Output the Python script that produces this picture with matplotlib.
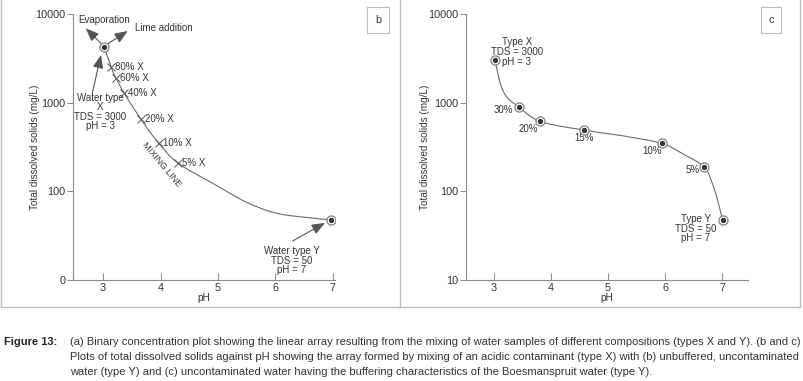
import matplotlib
matplotlib.use('Agg')
import matplotlib.pyplot as plt
import numpy as np
from matplotlib.lines import Line2D

plt.rcParams['font.family'] = ['Liberation Sans', 'DejaVu Sans']

# ---- data ----
# panel b : unbuffered mixing
b_x_pt = (3.02, 4250)
b_y_pt = (6.965, 47.7)
b_mix_labels = ['80% X', '60% X', '40% X', '20% X', '10% X', '5% X']
b_mix_ph = [3.14, 3.22, 3.37, 3.66, 3.97, 4.31]
b_mix_tds = [2520, 1915, 1277, 650, 348, 207]
b_curve_ph = [3.02, 3.14, 3.22, 3.37, 3.66, 3.97, 4.31, 5.0, 5.5, 6.0, 6.5, 6.965]
b_curve_tds = [4250, 2520, 1915, 1277, 650, 348, 207, 114, 75, 57, 51, 47.7]

# panel c : buffered mixing
c_labels = ['', '30%', '20%', '15%', '10%', '5%', '']
c_ph = [3.02, 3.43, 3.81, 4.58, 5.94, 6.69, 7.01]
c_tds = [3000, 900, 615, 490, 347, 187, 48]
c_curve_ph = [3.02, 3.11, 3.22, 3.43, 3.81, 4.58, 5.27, 5.94, 6.32, 6.69, 6.85, 6.94, 7.01]
c_curve_tds = [3000, 1650, 1170, 900, 615, 490, 422, 347, 263, 187, 113, 72, 48]

y_ticks = [10, 100, 1000, 10000]
b_ytick_labels = ['0', '100', '1000', '10000']
c_ytick_labels = ['10', '100', '1000', '10000']
x_ticks = [3, 4, 5, 6, 7]

caption_head = 'Figure 13:'
caption_lines = [
    '(a) Binary concentration plot showing the linear array resulting from the mixing of water samples of different compositions (types X and Y). (b and c)',
    'Plots of total dissolved solids against pH showing the array formed by mixing of an acidic contaminant (type X) with (b) unbuffered, uncontaminated',
    'water (type Y) and (c) uncontaminated water having the buffering characteristics of the Boesmanspruit water (type Y).',
]

TXT = '#333333'
LINE = '#6a6a6a'
FRAME = '#bdbdbd'
FS = 7.0      # annotation size
TICK_FS = 7.8


def smooth(px, py, n=20):
    # Catmull-Rom through the read points, in (pH, log TDS) space
    x = np.asarray(px, float)
    y = np.log10(np.asarray(py, float))
    P = np.column_stack([x, y])
    P = np.vstack([2 * P[0] - P[1], P, 2 * P[-1] - P[-2]])
    out = []
    t = np.linspace(0, 1, n, endpoint=False)[:, None]
    for i in range(1, len(P) - 2):
        p0, p1, p2, p3 = P[i - 1], P[i], P[i + 1], P[i + 2]
        seg = 0.5 * ((2 * p1) + (-p0 + p2) * t + (2 * p0 - 5 * p1 + 4 * p2 - p3) * t ** 2
                     + (-p0 + 3 * p1 - 3 * p2 + p3) * t ** 3)
        out.append(seg)
    out.append(P[-2][None, :])
    out = np.vstack(out)
    return out[:, 0], 10 ** out[:, 1]


def style_axes(ax, xlim, ylabels, ylab_x):
    ax.set_yscale('log')
    ax.set_xlim(*xlim)
    ax.set_ylim(10, 10000)
    ax.spines['top'].set_visible(False)
    ax.spines['right'].set_visible(False)
    for s in ('left', 'bottom'):
        ax.spines[s].set_color('#8a8a8a')
        ax.spines[s].set_linewidth(0.8)
    ax.set_yticks(y_ticks)
    ax.set_yticklabels(ylabels)
    ax.minorticks_off()
    ax.set_xticks(x_ticks)
    ax.tick_params(axis='y', direction='out', length=4, width=0.7, color='#8a8a8a',
                   labelsize=TICK_FS, labelcolor=TXT, pad=1.5)
    ax.tick_params(axis='x', direction='in', length=5, width=0.7, color='#8a8a8a',
                   labelsize=TICK_FS, labelcolor=TXT, pad=2.5)
    ax.set_xlabel('pH', fontsize=7.2, color=TXT, labelpad=-0.5)
    ax.set_ylabel('Total dissolved solids (mg/L)', fontsize=7.2, color=TXT)
    ax.yaxis.set_label_coords(ylab_x, 0.5)
    ax.patch.set_visible(False)


def bullseye(ax, x, y):
    ax.plot(x, y, 'o', ms=6.5, mfc='white', mec='#8a8a8a', mew=1.0, zorder=4)
    ax.plot(x, y, 'o', ms=2.8, color='#333333', zorder=5)


fig = plt.figure(figsize=(8.04, 3.81), dpi=100)

# panel frames (pixel based)
W, H = 804, 381
def fl(x0, y0, x1, y1):
    fig.add_artist(Line2D([x0 / W, x1 / W], [1 - y0 / H, 1 - y1 / H],
                          transform=fig.transFigure, color=FRAME, lw=1.0))
fl(1, 0, 1, 307)
fl(1, 307, 400, 307)
fl(400, 0, 400, 307)
fl(401, 307, 800, 307)
fl(800, 0, 800, 307)

# ---------------- panel b ----------------
axb = fig.add_axes([73 / W, 1 - 280 / H, 262 / W, 266 / H])
style_axes(axb, (2.478, 7.035), b_ytick_labels, -0.125)
sx, sy = smooth(b_curve_ph, b_curve_tds)
axb.plot(sx, sy, color=LINE, lw=0.8)
axb.plot(b_mix_ph, b_mix_tds, 'x', ms=6, mew=0.7, color='#555555')
for lab, px, py in zip(b_mix_labels, b_mix_ph, b_mix_tds):
    axb.annotate(lab, (px, py), xytext=(3, 0), textcoords='offset points',
                 ha='left', va='center', fontsize=FS, color=TXT)
bullseye(axb, *b_x_pt)
bullseye(axb, *b_y_pt)

arrow = dict(arrowstyle='-|>,head_length=0.8,head_width=0.32', color='#555555', lw=0.8,
             shrinkA=0, shrinkB=0)
axb.annotate('', xy=(2.70, 6900), xytext=(2.99, 4500), arrowprops=arrow)
axb.annotate('', xy=(3.43, 6430), xytext=(3.06, 4500), arrowprops=arrow)
axb.annotate('', xy=(2.965, 3450), xytext=(2.81, 1254), arrowprops=arrow)
axb.annotate('', xy=(6.86, 44), xytext=(6.30, 27.6), arrowprops=arrow)
axb.text(2.565, 8500, 'Evaporation', fontsize=FS, color=TXT, ha='left', va='center')
axb.text(3.557, 7000, 'Lime addition', fontsize=FS, color=TXT, ha='left', va='center')
axb.text(2.948, 785, 'Water type\nX\nTDS = 3000\npH = 3', fontsize=FS, color=TXT,
         ha='center', va='center', linespacing=0.95)
axb.text(6.287, 16.5, 'Water type Y\nTDS = 50\npH = 7', fontsize=FS, color=TXT,
         ha='center', va='center', linespacing=0.95)
axb.text(4.02, 200, 'MIXING LINE', fontsize=6.6, color=TXT, rotation=-50,
         ha='center', va='center')
axb.text(378 / W, 1 - 20 / H, 'b', transform=fig.transFigure, fontsize=7.8, color=TXT,
         ha='center', va='center',
         bbox=dict(boxstyle='square,pad=0.7', fc='white', ec=FRAME, lw=0.8))

# ---------------- panel c ----------------
axc = fig.add_axes([466 / W, 1 - 280 / H, 282 / W, 266 / H])
style_axes(axc, (2.509, 7.456), c_ytick_labels, -0.128)
sx, sy = smooth(c_curve_ph, c_curve_tds)
axc.plot(sx, sy, color=LINE, lw=0.8)
for px, py in zip(c_ph, c_tds):
    bullseye(axc, px, py)
label_pos = {'30%': (3.333, 828, 'right'), '20%': (3.6, 505, 'center'),
             '15%': (4.58, 400, 'center'), '10%': (5.77, 285, 'center'),
             '5%': (6.49, 174, 'center')}
for lab in c_labels:
    if lab:
        lx, ly, ha = label_pos[lab]
        axc.text(lx, ly, lab, fontsize=FS, color=TXT, ha=ha, va='center')
axc.text(3.40, 3730, 'Type X\nTDS = 3000\npH = 3', fontsize=FS, color=TXT,
         ha='center', va='center', linespacing=0.95)
axc.text(6.54, 37.7, 'Type Y\nTDS = 50\npH = 7', fontsize=FS, color=TXT,
         ha='center', va='center', linespacing=0.95)
axc.text(771 / W, 1 - 20 / H, 'c', transform=fig.transFigure, fontsize=7.8, color=TXT,
         ha='center', va='center',
         bbox=dict(boxstyle='square,pad=0.7', fc='white', ec=FRAME, lw=0.8))

# ---------------- caption ----------------
fig.text(4 / W, 1 - 342 / H, caption_head, fontsize=8.0, fontweight='bold', color='#222222',
         ha='left', va='center')
cap = []
for i, line in enumerate(caption_lines):
    cap.append(fig.text(70 / W, 1 - (342 + 15 * i) / H, line, fontsize=7.5, color=TXT,
                        ha='left', va='center'))
# shrink caption so the first line spans x = 70..798 px
r = fig.canvas.get_renderer()
w = cap[0].get_window_extent(r).width
for t in cap:
    t.set_fontsize(7.5 * 728 / w)

plt.savefig('out.png', dpi=100)
